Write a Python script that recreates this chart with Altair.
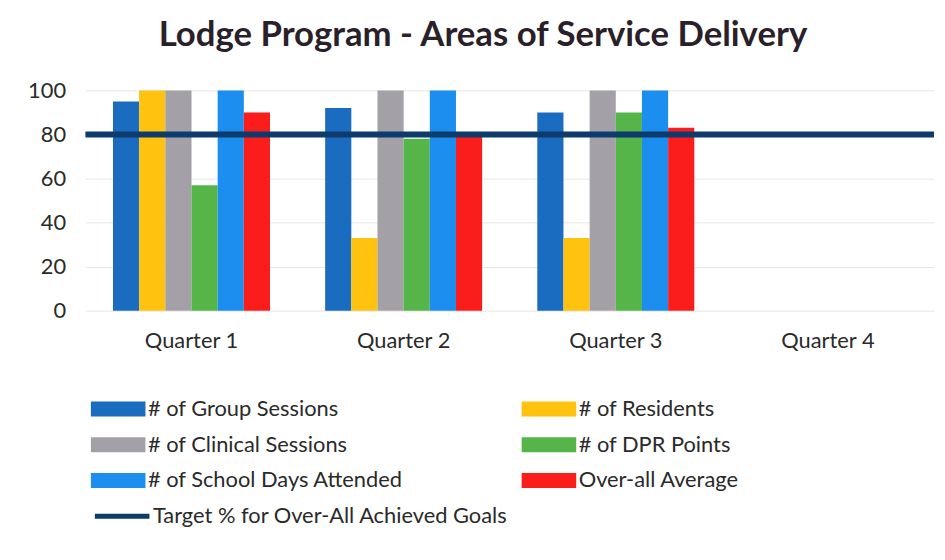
import altair as alt
import pandas as pd

quarters = ["Quarter 1", "Quarter 2", "Quarter 3", "Quarter 4"]
series = ["# of Group Sessions", "# of Residents", "# of Clinical Sessions",
          "# of DPR Points", "# of School Days Attended", "Over-all Average"]
colors = ["#1a6cc0", "#ffc20e", "#a4a0a8", "#55b548", "#1b8ef0", "#fb1c1c"]

group_sessions = [95, 92, 90]
residents = [100, 33, 33]
clinical = [100, 100, 100]
dpr_points = [57, 78, 90]
school_days = [100, 100, 100]
overall_avg = [90, 79, 83]

target_label = "Target % for Over-All Achieved Goals"
target_value = [80]

rows = []
for s, vals in zip(series, [group_sessions, residents, clinical, dpr_points, school_days, overall_avg]):
    for q, v in zip(quarters[:3], vals):
        rows.append({"quarter": q, "series": s, "value": v})
df = pd.DataFrame(rows)
tdf = pd.DataFrame({"target": target_value, "label": [target_label]})

# legend fills column by column: order entries so they read row by row
legend_order = [0, 2, 4, 1, 3, 5]
legend_domain = [series[i] for i in legend_order]
legend_colors = [colors[i] for i in legend_order]

FONT = "Lato"
TXT = "#2a2a2a"

bars = alt.Chart(df).mark_bar().encode(
    x=alt.X("quarter:N", scale=alt.Scale(domain=quarters, paddingInner=0.26, paddingOuter=0.13),
            axis=alt.Axis(title=None, labelAngle=0, domain=False, ticks=False,
                          labelFontSize=22, labelColor=TXT, labelPadding=20, labelFont=FONT)),
    xOffset=alt.XOffset("series:N", scale=alt.Scale(domain=series, paddingInner=0, paddingOuter=0)),
    y=alt.Y("value:Q", scale=alt.Scale(domain=[0, 100]),
            axis=alt.Axis(title=None, values=[0, 20, 40, 60, 80, 100], domain=False, ticks=False,
                          labelFontSize=22, labelColor=TXT, labelPadding=20, labelFont=FONT,
                          gridColor="#e6e6e6", gridWidth=1)),
    color=alt.Color("series:N", scale=alt.Scale(domain=legend_domain, range=legend_colors),
                    legend=alt.Legend(title=None, orient="none", legendX=19, legendY=307,
                                      columns=2, columnPadding=118, rowPadding=11,
                                      symbolType="M-2,-0.55L2,-0.55L2,0.55L-2,0.55Z",
                                      symbolSize=756, symbolStrokeWidth=0, symbolOpacity=1,
                                      labelFontSize=22, labelFont=FONT, labelColor=TXT,
                                      labelOffset=16, labelLimit=400)),
)

rule = alt.Chart(tdf).mark_rule(strokeWidth=6).encode(
    y="target:Q",
    stroke=alt.Stroke("label:N", scale=alt.Scale(domain=[target_label], range=["#0c3b6c"]),
                      legend=alt.Legend(title=None, orient="none", legendX=7, legendY=399,
                                        symbolType="stroke", symbolSize=3025, symbolStrokeWidth=5,
                                        labelFontSize=22, labelFont=FONT, labelColor=TXT,
                                        labelOffset=1, labelLimit=400)),
)

chart = alt.layer(bars, rule).resolve_scale(color="independent").properties(
    width=855, height=222,
    title=alt.TitleParams("Lodge Program - Areas of Service Delivery", fontSize=35, font=FONT,
                          fontWeight="bold", color="#2a1f2a", anchor="middle", offset=27, dx=-27),
    padding={"left": 19, "top": 8, "right": 0, "bottom": 10},
).configure_view(stroke=None)

chart.save("out.html", embed_options={"renderer": "svg", "actions": False})
